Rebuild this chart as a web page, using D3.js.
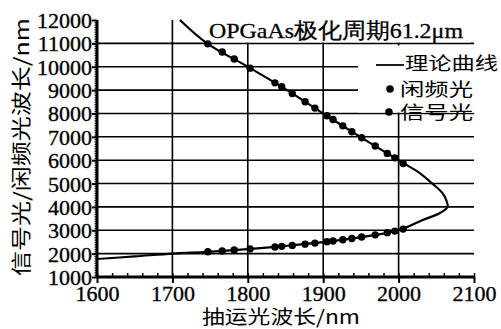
<!DOCTYPE html>
<html><head><meta charset="utf-8">
<script src="https://cdn.jsdelivr.net/npm/d3@7"></script>
<style>body{margin:0;background:#fff}svg{display:block}</style>
</head><body>
<svg id="c" width="501" height="329"></svg>
<script>
// theoretical tuning curve (pump wavelength, signal/idler wavelength), nm
const curvePump = [1600,1650,1700,1747,1800,1850,1900,1950,2000,2032,2055,2065,2063,2058,2044,2028,2006,2000,1949,1900,1852,1800,1746,1710];
const curveWave = [1770,1880,2000,2078,2195,2330,2490,2705,3000,3440,3740,4000,4300,4600,5020,5450,5880,6000,7000,8000,9000,10000,11000,12000];
// measured points
const dotPump   = [1747,1766,1782,1803,1836,1845,1859,1876,1889,1905,1913,1926,1938,1951,1969,1985,1995,2006];
const idlerWave = [10980,10630,10330,9940,9310,9140,8850,8500,8230,7900,7740,7470,7220,6960,6610,6290,6100,5860];
const signalWave= [2078,2118,2153,2202,2287,2312,2353,2407,2452,2510,2542,2595,2649,2711,2804,2899,2965,3050];
const xTicks = [1600,1700,1800,1900,2000,2100];
const yTicks = [1000,2000,3000,4000,5000,6000,7000,8000,9000,10000,11000,12000];
const title = "OPGaAs极化周期61.2μm";
const xLabel = "抽运光波长/nm";
const yLabel = "信号光/闲频光波长/nm";
const legendLabels = ["理论曲线","闲频光","信号光"];

const svg = d3.select("#c");
const x = d3.scaleLinear().domain([1600,2100]).range([97,474]);
const y = d3.scaleLinear().domain([1000,12000]).range([277,20]);
const serif = "'Liberation Serif','DejaVu Serif',serif";
const cjk = "'Noto Sans CJK SC','Noto Sans',sans-serif";

// grid
const g = svg.append("g").attr("stroke","#000").attr("stroke-width",1.6);
g.selectAll(".vg").data(xTicks.slice(1,-1)).join("line")
  .attr("x1",d=>x(d)).attr("x2",d=>x(d)).attr("y1",y(12000)).attr("y2",y(1000));
g.selectAll(".hg").data(yTicks.slice(1,-1)).join("line")
  .attr("x1",x(1600)).attr("x2",x(2100)).attr("y1",d=>y(d)).attr("y2",d=>y(d));

// white boxes for title and legend
svg.append("rect").attr("x",205).attr("y",18).attr("width",266).attr("height",24.5).attr("fill","#fff");
svg.append("rect").attr("x",358).attr("y",45.5).attr("width",120).attr("height",67).attr("fill","#fff");

// axes
const xAxis = d3.axisBottom(x).tickValues(xTicks).tickSize(6).tickFormat(d3.format("d"));
const ax = svg.append("g").attr("transform",`translate(0,${y(1000)})`).call(xAxis);
ax.select(".domain").attr("stroke-width",3).attr("d",`M${x(1600)},0H${x(2100)}`);
ax.selectAll(".tick line").attr("stroke-width",2);
ax.selectAll("text").attr("font-family",serif).attr("font-size",22).attr("fill","#000")
  .attr("stroke","#000").attr("stroke-width",0.35).attr("y",8).attr("dy","0.72em");
const xm = d3.axisTop(x).tickValues(d3.range(1600,2101,20)).tickSize(4).tickFormat("");
const axm = svg.append("g").attr("transform",`translate(0,${y(1000)})`).call(xm);
axm.select(".domain").remove();
axm.selectAll(".tick line").attr("stroke-width",1.5);

const yAxis = d3.axisLeft(y).tickValues(yTicks).tickSize(5).tickFormat(d3.format("d"));
const ay = svg.append("g").attr("transform",`translate(${x(1600)},0)`).call(yAxis);
ay.select(".domain").attr("stroke-width",3).attr("d",`M0,${y(12000)}V${y(1000)}`);
ay.selectAll(".tick line").attr("stroke-width",2);
ay.selectAll("text").attr("font-family",serif).attr("font-size",22).attr("fill","#000")
  .attr("stroke","#000").attr("stroke-width",0.35).attr("x",-5).attr("dy","0.34em");
const ym = d3.axisLeft(y).tickValues(d3.range(1000,12001,100)).tickSize(2.5).tickFormat("");
const aym = svg.append("g").attr("transform",`translate(${x(1600)},0)`).call(ym);
aym.select(".domain").remove();
aym.selectAll(".tick line").attr("stroke-width",1);

// theoretical curve
const pts = curvePump.map((p,i)=>[p,curveWave[i]]);
svg.append("path").datum(pts)
  .attr("d",d3.line().x(d=>x(d[0])).y(d=>y(d[1])).curve(d3.curveCatmullRom.alpha(0.5)))
  .attr("fill","none").attr("stroke","#000").attr("stroke-width",2.2);

// dots
svg.append("g").selectAll("circle").data(dotPump.map((p,i)=>[p,idlerWave[i]])).join("circle")
  .attr("cx",d=>x(d[0])).attr("cy",d=>y(d[1])).attr("r",3.7).attr("fill","#000");
svg.append("g").selectAll("circle").data(dotPump.map((p,i)=>[p,signalWave[i]])).join("circle")
  .attr("cx",d=>x(d[0])).attr("cy",d=>y(d[1])).attr("r",3.7).attr("fill","#000");

// title
svg.append("text").attr("x",209).attr("y",38).attr("font-family",`${serif}`).attr("font-size",22)
  .attr("stroke","#000").attr("stroke-width",0.3)
  .attr("textLength",254).attr("lengthAdjust","spacingAndGlyphs").text(title);

// legend
svg.append("line").attr("x1",376).attr("x2",404).attr("y1",65).attr("y2",65).attr("stroke","#000").attr("stroke-width",1.8);
svg.append("circle").attr("cx",390).attr("cy",89).attr("r",3.8).attr("fill","#000");
svg.append("circle").attr("cx",389).attr("cy",112).attr("r",3.8).attr("fill","#000");
const lt = [[405,70,93],[400,96,73],[400,119,73]];
legendLabels.forEach((t,i)=>{
  svg.append("text").attr("x",lt[i][0]).attr("y",lt[i][1]).attr("font-family",cjk).attr("font-size",18)
    .attr("textLength",lt[i][2]).attr("lengthAdjust","spacingAndGlyphs").text(t);
});

// axis labels
svg.append("text").attr("x",202).attr("y",324).attr("font-family",cjk).attr("font-size",19)
  .attr("textLength",158).attr("lengthAdjust","spacingAndGlyphs").text(xLabel);
svg.append("text").attr("transform","translate(29,276) rotate(-90)").attr("font-family",cjk).attr("font-size",20)
  .attr("textLength",258).attr("lengthAdjust","spacingAndGlyphs").text(yLabel);
</script>
</body></html>
